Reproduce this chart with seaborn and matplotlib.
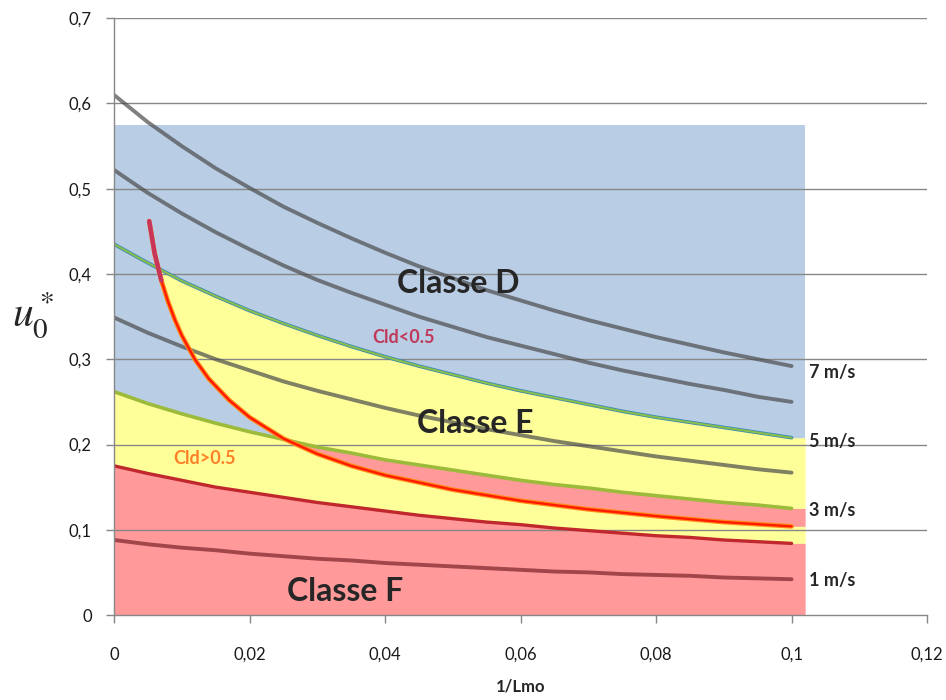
import numpy as np
import pandas as pd
import matplotlib

matplotlib.use("Agg")
import matplotlib.pyplot as plt
import seaborn as sns

# valeurs (u0* en fonction de 1/Lmo)
inv_lmo = [0.0, 0.005, 0.01, 0.015, 0.02, 0.025, 0.03, 0.035, 0.04, 0.045, 0.05,
           0.055, 0.06, 0.065, 0.07, 0.075, 0.08, 0.085, 0.09, 0.095, 0.1]
u_7ms = [0.610, 0.578, 0.550, 0.524, 0.501, 0.479, 0.460, 0.442, 0.425, 0.409, 0.395,
         0.381, 0.369, 0.357, 0.346, 0.336, 0.326, 0.317, 0.308, 0.300, 0.292]
u_6ms = [0.522, 0.495, 0.471, 0.449, 0.429, 0.410, 0.393, 0.378, 0.364, 0.350, 0.338,
         0.326, 0.316, 0.306, 0.296, 0.287, 0.279, 0.271, 0.264, 0.256, 0.250]
u_5ms = [0.435, 0.413, 0.392, 0.374, 0.357, 0.342, 0.328, 0.315, 0.303, 0.292, 0.282,
         0.272, 0.263, 0.255, 0.247, 0.239, 0.232, 0.226, 0.220, 0.214, 0.208]
u_4ms = [0.349, 0.331, 0.315, 0.300, 0.287, 0.274, 0.263, 0.253, 0.243, 0.234, 0.226,
         0.218, 0.211, 0.204, 0.198, 0.192, 0.186, 0.181, 0.176, 0.171, 0.167]
u_3ms = [0.262, 0.248, 0.236, 0.225, 0.215, 0.206, 0.197, 0.190, 0.182, 0.176, 0.170,
         0.164, 0.158, 0.153, 0.149, 0.144, 0.140, 0.136, 0.132, 0.129, 0.125]
u_2ms = [0.175, 0.166, 0.158, 0.150, 0.144, 0.138, 0.132, 0.127, 0.122, 0.117, 0.113,
         0.109, 0.106, 0.102, 0.099, 0.096, 0.093, 0.091, 0.088, 0.086, 0.084]
u_1ms = [0.088, 0.083, 0.079, 0.076, 0.072, 0.069, 0.066, 0.064, 0.061, 0.059, 0.057,
         0.055, 0.053, 0.051, 0.050, 0.048, 0.047, 0.046, 0.044, 0.043, 0.042]

# courbe Cld = 0.5
cld_x = [0.0052, 0.006, 0.007, 0.008, 0.009, 0.010, 0.012, 0.014, 0.017, 0.020,
         0.025, 0.030, 0.035, 0.040, 0.050, 0.060, 0.070, 0.080, 0.090, 0.100]
cld_y = [0.462, 0.424, 0.392, 0.367, 0.346, 0.328, 0.299, 0.277, 0.252, 0.232,
         0.207, 0.189, 0.175, 0.164, 0.147, 0.134, 0.124, 0.116, 0.109, 0.104]

x_ticks = [0, 0.02, 0.04, 0.06, 0.08, 0.1, 0.12]
x_tick_labels = ["0", "0,02", "0,04", "0,06", "0,08", "0,1", "0,12"]
y_ticks = [0, 0.1, 0.2, 0.3, 0.4, 0.5, 0.6, 0.7]
y_tick_labels = ["0", "0,1", "0,2", "0,3", "0,4", "0,5", "0,6", "0,7"]

x_max_zone = 0.102
u_max_zone = 0.575

BLUE = "#b9cde5"
YELLOW = "#ffff99"
PINK = "#ff999a"
GRID = "#878787"

sns.set_theme(style="white")
plt.rcParams["font.family"] = ["Lato", "DejaVu Sans"]
plt.rcParams["mathtext.fontset"] = "stix"

fig = plt.figure(figsize=(9.46, 7), dpi=100)
ax = fig.add_axes([0.1205, 0.1214, 0.8595, 0.8526])

# zones de stabilite
xs = np.linspace(0, x_max_zone, 1500)
L5 = np.interp(xs, inv_lmo, u_5ms)
L3 = np.interp(xs, inv_lmo, u_3ms)
L2 = np.interp(xs, inv_lmo, u_2ms)
C = np.interp(xs, cld_x, cld_y, left=1.0)

ax.fill_between([0, x_max_zone], 0, u_max_zone, color=BLUE, lw=0, zorder=1)
lo = np.maximum(L3, C)
ax.fill_between(xs, lo, L5, where=L5 > lo, interpolate=True, color=YELLOW, lw=0, zorder=1)
ax.fill_between(xs, C, L3, where=L3 > C, interpolate=True, color=PINK, lw=0, zorder=1)
hi = np.minimum(C, L3)
ax.fill_between(xs, L2, hi, where=hi > L2, interpolate=True, color=YELLOW, lw=0, zorder=1)
ax.fill_between(xs, 0, np.minimum(C, L2), color=PINK, lw=0, zorder=1)

for y in y_ticks[1:]:
    ax.axhline(y, color=GRID, lw=1, zorder=1.5)

df = pd.DataFrame({"x": inv_lmo, "7": u_7ms, "6": u_6ms, "5": u_5ms, "4": u_4ms,
                   "3": u_3ms, "2": u_2ms, "1": u_1ms})

for col in ["7", "6", "4"]:
    sns.lineplot(data=df, x="x", y=col, ax=ax, color="#4f4f4f", alpha=0.72, lw=2.8, zorder=3)
sns.lineplot(data=df, x="x", y="5", ax=ax, color="#3a8cb5", lw=2.6, zorder=3)
sns.lineplot(data=df, x="x", y="5", ax=ax, color="#8cbf4a", lw=1.4, zorder=3)
sns.lineplot(data=df, x="x", y="3", ax=ax, color="#9cbb3a", lw=2.6, zorder=3)
sns.lineplot(data=df, x="x", y="2", ax=ax, color="#c0282d", lw=2.4, zorder=3)
sns.lineplot(data=df, x="x", y="1", ax=ax, color="#a2464c", lw=2.8, zorder=3)

# courbe Cld
sns.lineplot(x=cld_x, y=cld_y, ax=ax, color="#ff8c1a", lw=3.4, zorder=4, sort=False)
sns.lineplot(x=cld_x, y=cld_y, ax=ax, color="#ff1a00", lw=1.7, zorder=4, sort=False)
sns.lineplot(x=cld_x[:3], y=cld_y[:3], ax=ax, color="#c8355a", lw=3.2, zorder=4, sort=False)

# textes
ax.text(0.0508, 0.389, "Classe D", fontsize=23, fontweight="bold", ha="center", va="center", zorder=5)
ax.text(0.0533, 0.225, "Classe E", fontsize=23, fontweight="bold", ha="center", va="center", zorder=5)
ax.text(0.0341, 0.027, "Classe F", fontsize=23, fontweight="bold", ha="center", va="center", zorder=5)
ax.text(0.0427, 0.326, "Cld<0.5", fontsize=13, fontweight="bold", color="#c0395a", ha="center", va="center", zorder=5)
ax.text(0.0134, 0.183, "Cld>0.5", fontsize=13, fontweight="bold", color="#ff7f27", ha="center", va="center", zorder=5)
for lab, y in [("7 m/s", 0.285), ("5 m/s", 0.203), ("3 m/s", 0.123), ("1 m/s", 0.041)]:
    ax.text(0.1025, y, lab, fontsize=13, fontweight="bold", ha="left", va="center", zorder=5)

ax.set_xlim(0, 0.12)
ax.set_ylim(0, 0.7)
ax.set_xticks(x_ticks)
ax.set_xticklabels(x_tick_labels)
ax.set_yticks(y_ticks)
ax.set_yticklabels(y_tick_labels)
ax.tick_params(axis="both", direction="out", length=6, width=1, color=GRID,
               labelsize=12, labelcolor="#1a1a1a", left=True, bottom=True)
ax.tick_params(axis="x", pad=17)
ax.tick_params(axis="y", pad=10)

for side in ["top", "right"]:
    ax.spines[side].set_visible(False)
for side in ["left", "bottom"]:
    ax.spines[side].set_color(GRID)
    ax.spines[side].set_linewidth(1)
    ax.spines[side].set_zorder(6)

ax.set_xlabel("1/Lmo", fontsize=12, fontweight="bold", labelpad=11)
ax.set_ylabel("")
fig.text(0.035, 0.55, r"$u_0^*$", fontsize=30, ha="center", va="center")

fig.savefig("out.png", dpi=100)
